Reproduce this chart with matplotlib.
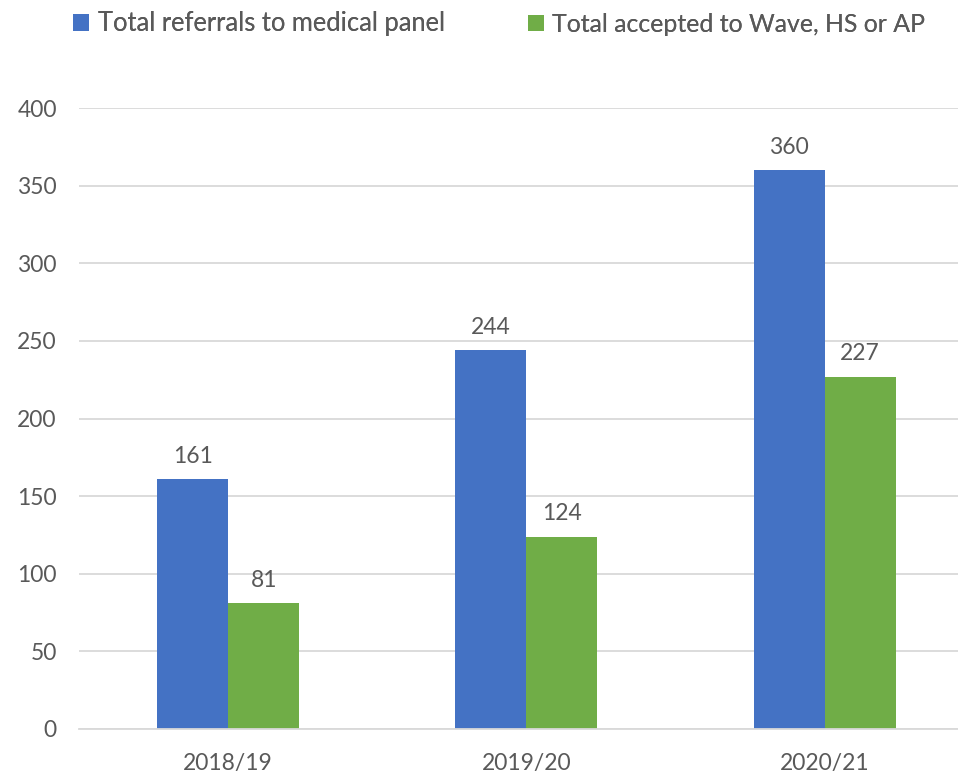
import matplotlib.pyplot as plt
import numpy as np

years = ["2018/19", "2019/20", "2020/21"]
referrals = [161, 244, 360]
accepted = [81, 124, 227]
series_names = ["Total referrals to medical panel", "Total accepted to Wave, HS or AP"]

blue = "#4472C4"
green = "#70AD47"
text_col = "#595959"

plt.rcParams["font.family"] = ["Lato", "DejaVu Sans"]

fig = plt.figure(figsize=(9.58, 7.72), dpi=100)
ax = fig.add_axes([0.0825, 0.0557, 0.934, 0.8043])

x = np.arange(len(years))
w = 0.238
b1 = ax.bar(x - w / 2, referrals, w, color=blue, label=series_names[0])
b2 = ax.bar(x + w / 2, accepted, w, color=green, label=series_names[1])

for bars in (b1, b2):
    for r in bars:
        ax.annotate(f"{int(r.get_height())}", (r.get_x() + r.get_width() / 2, r.get_height()),
                    xytext=(0, 9), textcoords="offset points", ha="center", va="bottom",
                    fontsize=16.5, color=text_col)

ax.set_xlim(-0.5, 2.5)
ax.set_ylim(0, 400)
ax.set_yticks(range(0, 401, 50))
ax.set_xticks(x)
ax.set_xticklabels(years)
ax.yaxis.grid(True, color="#D9D9D9", linewidth=1.3)
ax.set_axisbelow(True)
for s in ["top", "right", "left"]:
    ax.spines[s].set_visible(False)
ax.spines["bottom"].set_color("#D9D9D9")
ax.spines["bottom"].set_linewidth(1.3)
ax.tick_params(length=0, labelsize=16.5, colors=text_col)
ax.tick_params(axis="y", pad=16)
ax.tick_params(axis="x", pad=17)

# one legend per series so each entry sits where the reference has it
for bars, name, x0, fs in [(b1, series_names[0], 73, 18.4), (b2, series_names[1], 528, 17.9)]:
    leg = fig.legend([bars], [name], loc="center left", bbox_to_anchor=(x0 / 958, 1 - 24 / 772),
                     frameon=False, fontsize=fs, labelcolor=text_col, borderpad=0, borderaxespad=0,
                     handlelength=0.64, handleheight=0.64, handletextpad=0.33)
    fig.add_artist(leg)

fig.savefig("out.png", dpi=100)
